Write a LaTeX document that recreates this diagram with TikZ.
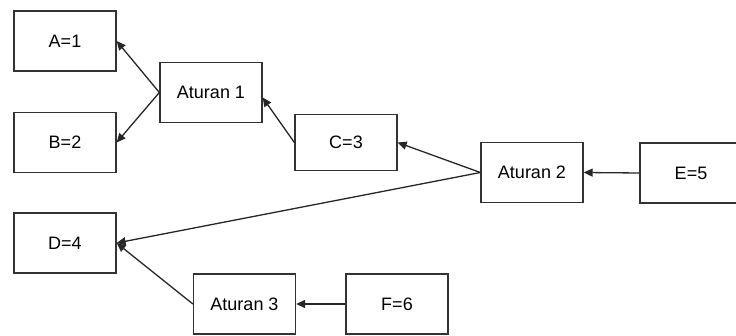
\documentclass[tikz,border=0pt]{standalone}
\usepackage{fontspec}
\setmainfont{Liberation Sans}
\usetikzlibrary{arrows.meta}

\begin{document}
\begin{tikzpicture}[x=1pt,y=-1pt,
  kotak/.style={draw=black!80,line width=1.3pt,minimum width=102pt,minimum height=60pt,
    inner sep=0pt,font=\fontsize{18}{20}\selectfont},
  panah/.style={draw=black!85,line width=1.3pt,-{Triangle[length=9pt,width=8pt]}}]
% page size as in the reference
\useasboundingbox (0,0) rectangle (736,336);

% the facts and the rules, placed at their centres
\node[kotak] (a1) at (65,41) {A=1};
\node[kotak] (b2) at (65,142.5) {B=2};
\node[kotak] (d4) at (65,243) {D=4};
\node[kotak] (at1) at (211,92.5) {Aturan 1};
\node[kotak,minimum height=56pt] (c3) at (346,142.5) {C=3};
\node[kotak] (at3) at (244.5,304) {Aturan 3};
\node[kotak] (f6) at (397,304) {F=6};
\node[kotak] (at2) at (532,172.5) {Aturan 2};
\node[kotak] (e5) at (691,173) {E=5};

% connectors
\draw[panah] (at1.west) -- (a1.east);
\draw[panah] (at1.west) -- (b2.east);
\draw[panah] (c3.west) -- ([yshift=-5pt]at1.east);
\draw[panah] (at2.west) -- (c3.east);
\draw[panah] (at2.west) -- (d4.east);
\draw[panah] (e5.west) -- (at2.east);
\draw[panah] (at3.west) -- (d4.east);
\draw[panah] (f6.west) -- (at3.east);
\end{tikzpicture}
\end{document}
